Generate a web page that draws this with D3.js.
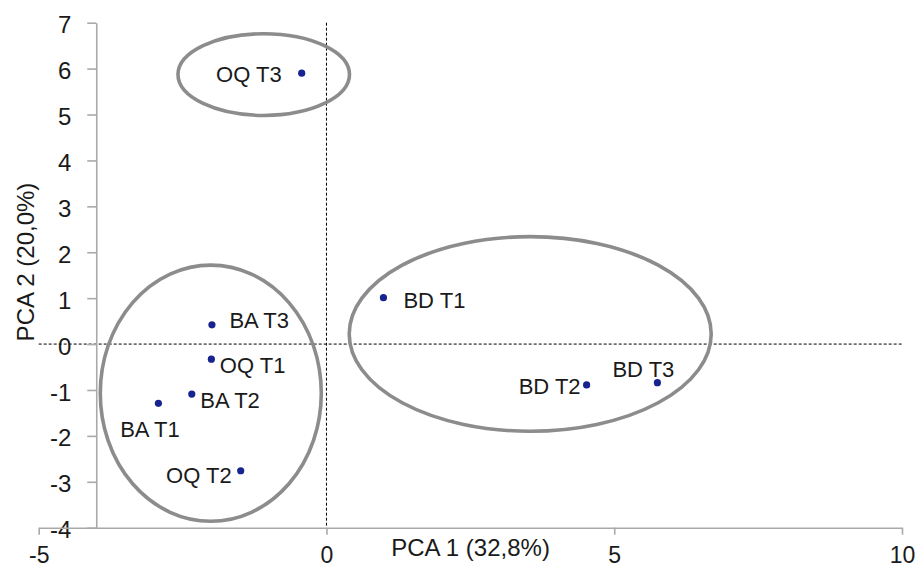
<!DOCTYPE html>
<html>
<head>
<meta charset="utf-8">
<script src="https://cdn.jsdelivr.net/npm/d3@7"></script>
<style>
  html, body { margin: 0; padding: 0; background: #fff; }
  svg { display: block; font-family: "Liberation Sans", Arial, Helvetica, sans-serif; }
</style>
</head>
<body>
<svg id="chart" width="920" height="572"></svg>
<script>
// PCA scores per sample (site + sampling time)
const samples = ["OQ T3", "BA T3", "OQ T1", "BA T2", "BA T1", "OQ T2", "BD T1", "BD T2", "BD T3"];
const pc1 = [-0.43, -1.99, -2.00, -2.34, -2.92, -1.49, 0.99, 4.52, 5.75];
const pc2 = [5.90, 0.42, -0.33, -1.09, -1.29, -2.76, 1.01, -0.89, -0.84];

// Group outlines in data units: centre (x, y) and radii (rx, ry)
const groupNames = ["OQ T3", "BA/OQ", "BD"];
const groupCx = [-1.09, -2.01, 3.54];
const groupCy = [5.87, -1.07, 0.22];
const groupRx = [1.49, 1.92, 3.145];
const groupRy = [0.89, 2.79, 2.12];

// Axis ticks and titles
const xTicks = [-5, 0, 5, 10];
const yTicks = [-4, -3, -2, -1, 0, 1, 2, 3, 4, 5, 6, 7];
const xTitle = "PCA 1 (32,8%)";
const yTitle = "PCA 2 (20,0%)";

// Label placement around each point: [dx, dy, anchor]
const labelPlacement = {
  "OQ T3": [-20, 8.5, "end"],
  "BA T3": [17.5, 3.5, "start"],
  "OQ T1": [8.5, 14, "start"],
  "BA T2": [8.5, 14, "start"],
  "BA T1": [-8.5, 34, "middle"],
  "OQ T2": [-9, 12, "end"],
  "BD T1": [20, 10.5, "start"],
  "BD T2": [-6, 9, "end"],
  "BD T3": [-14, -6, "middle"]
};

const W = 920, H = 572;
const margin = { left: 38.7, right: 18, top: 22.7, bottom: 44.3 };

const x = d3.scaleLinear().domain([-5, 10]).range([margin.left, W - margin.right]);
const y = d3.scaleLinear().domain([-4, 7]).range([H - margin.bottom, margin.top]);

const svg = d3.select("#chart");
const axisColor = "#a9a9a9";

// Reference lines through the origin
svg.append("line")
  .attr("x1", x(0)).attr("x2", x(0))
  .attr("y1", y(7)).attr("y2", y(-4))
  .attr("stroke", "#000").attr("stroke-width", 1)
  .attr("stroke-dasharray", "3,2");
svg.append("line")
  .attr("x1", x(-5)).attr("x2", x(10))
  .attr("y1", y(0)).attr("y2", y(0))
  .attr("stroke", "#000").attr("stroke-width", 1)
  .attr("stroke-dasharray", "3,2");

// Vertical axis crossing at x = -4
const yAxis = svg.append("g")
  .attr("transform", `translate(${x(-4)},0)`)
  .call(d3.axisLeft(y).tickValues(yTicks).tickSize(9).tickSizeOuter(0)
    .tickPadding(16).tickFormat(d => String(d)));

// Horizontal axis along y = -4
const xAxis = svg.append("g")
  .attr("transform", `translate(0,${y(-4)})`)
  .call(d3.axisBottom(x).tickValues(xTicks).tickSize(7).tickSizeOuter(0)
    .tickPadding(12).tickFormat(d => String(d)));

[xAxis, yAxis].forEach(g => {
  g.select(".domain").attr("stroke", axisColor).attr("stroke-width", 1.6);
  g.selectAll(".tick line").attr("stroke", axisColor).attr("stroke-width", 1.6);
  g.selectAll(".tick text")
    .attr("fill", "#1a1a1a")
    .style("font-size", "24px")
    .style("font-family", "\"Liberation Sans\", Arial, sans-serif");
});
xAxis.selectAll(".tick text").style("font-size", "23px");
yAxis.selectAll(".tick text").attr("dy", "0.42em");

// Group ellipses
svg.append("g").selectAll("ellipse")
  .data(groupNames.map((n, i) => ({ n, cx: groupCx[i], cy: groupCy[i], rx: groupRx[i], ry: groupRy[i] })))
  .join("ellipse")
  .attr("cx", d => x(d.cx))
  .attr("cy", d => y(d.cy))
  .attr("rx", d => x(d.cx + d.rx) - x(d.cx))
  .attr("ry", d => y(d.cy) - y(d.cy + d.ry))
  .attr("fill", "none")
  .attr("stroke", "#8c8c8c")
  .attr("stroke-width", 3.6);

// Sample points and labels
const pts = samples.map((s, i) => ({ s, x: pc1[i], y: pc2[i] }));

svg.append("g").selectAll("circle")
  .data(pts)
  .join("circle")
  .attr("cx", d => x(d.x))
  .attr("cy", d => y(d.y))
  .attr("r", 3.6)
  .attr("fill", "#17238f");

svg.append("g").selectAll("text")
  .data(pts)
  .join("text")
  .attr("x", d => x(d.x) + labelPlacement[d.s][0])
  .attr("y", d => y(d.y) + labelPlacement[d.s][1])
  .attr("text-anchor", d => labelPlacement[d.s][2])
  .attr("fill", "#1a1a1a")
  .style("font-size", "22px")
  .text(d => d.s);

// Axis titles
svg.append("text")
  .attr("x", 470.5)
  .attr("y", 556)
  .attr("text-anchor", "middle")
  .attr("fill", "#1a1a1a")
  .style("font-size", "24px")
  .text(xTitle);

svg.append("text")
  .attr("transform", "translate(34,262) rotate(-90)")
  .attr("text-anchor", "middle")
  .attr("fill", "#1a1a1a")
  .style("font-size", "24px")
  .text(yTitle);
</script>
</body>
</html>
